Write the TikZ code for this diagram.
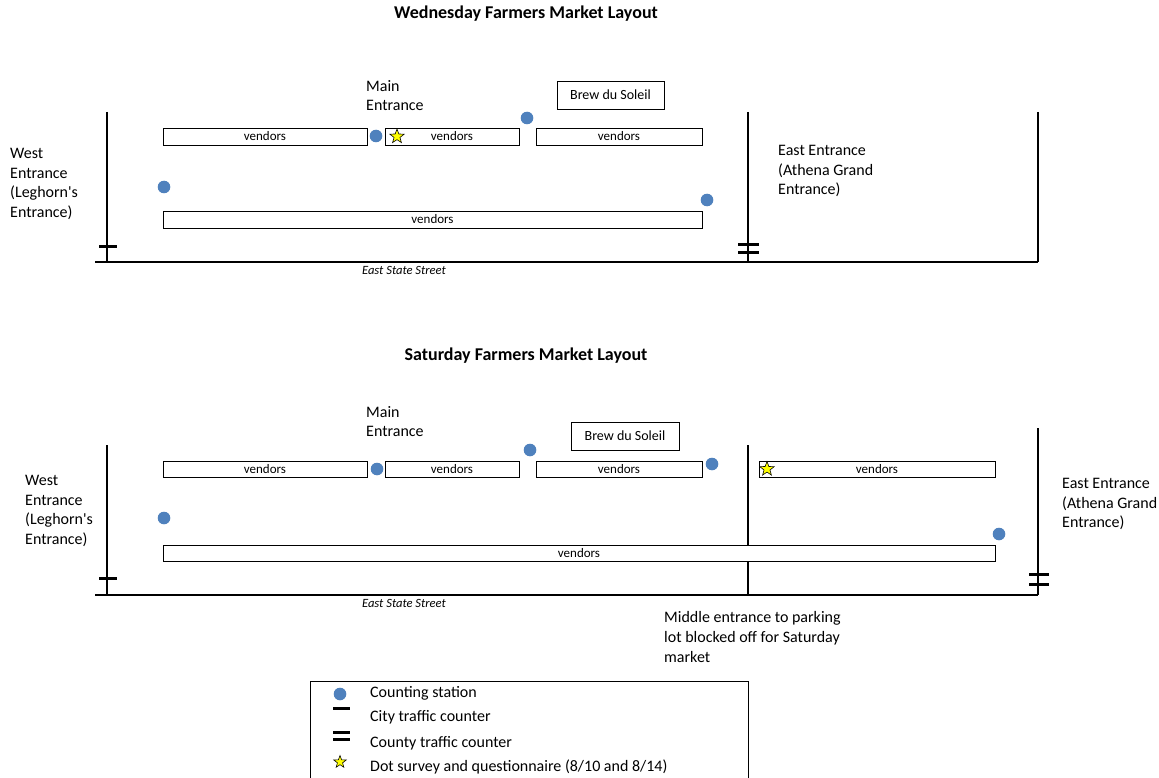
\documentclass[tikz,border=0pt]{standalone}
\usepackage{fontspec}
\setmainfont{Carlito}
\usetikzlibrary{shapes.geometric}
\definecolor{dotblue}{HTML}{4F81BD}
\definecolor{staryellow}{HTML}{FFFF00}
\tikzset{
  mainfont/.style={font=\fontsize{16}{19.7}\selectfont},
  lbl/.style={mainfont, align=left, inner sep=0pt, anchor=north west},
  titlelbl/.style={font=\fontsize{18}{22}\selectfont\bfseries, inner sep=0pt},
  stall/.style={draw=black, line width=0.9pt, fill=white, inner sep=0pt, font=\fontsize{13}{15}\selectfont},
  brewbox/.style={draw=black, line width=0.8pt, fill=white, inner sep=0pt, font=\fontsize{14}{16}\selectfont},
  station/.style={circle, fill=dotblue, draw=none, minimum size=12.6pt, inner sep=0pt},
  survey/.style={star, star points=5, star point ratio=2.4, draw=black, line width=0.6pt, fill=staryellow, minimum size=15pt, inner sep=0pt},
  wall/.style={line width=1.1pt, black},
  counter/.style={line width=3pt, black},
  streetlbl/.style={font=\fontsize{12.6}{15}\selectfont\itshape, inner sep=0pt},
}
\begin{document}
\begin{tikzpicture}[x=1pt,y=-1pt]
\useasboundingbox (0,0) rectangle (1159,778);

% ================= Wednesday =================
\node[titlelbl] (wtitle) at (526,14) {Wednesday Farmers Market Layout};
\node[lbl] (wmain) at (366,80) {Main\\Entrance};
\node[brewbox, minimum width=107pt, minimum height=28pt] (wbrew) at (610.5,95) {Brew du Soleil};

\draw[wall] (107,112) -- (107,262);
\draw[wall] (748,112) -- (748,262);
\draw[wall] (1038,112) -- (1038,262);
\draw[wall] (95,262) -- (1038,262);

\node[stall, minimum width=204pt, minimum height=17pt] (wv1) at (265,136.5) {vendors};
\node[stall, minimum width=134pt, minimum height=17pt] (wv2) at (452,136.5) {vendors};
\node[stall, minimum width=166pt, minimum height=17pt] (wv3) at (619,136.5) {vendors};
\node[stall, minimum width=539pt, minimum height=17pt] (wv4) at (432.5,219.5) {vendors};

\node[station] (wd1) at (376,136) {};
\node[station] (wd2) at (527,118) {};
\node[station] (wd3) at (164,187) {};
\node[station] (wd4) at (707,200) {};
\node[survey] (ws1) at (397,136.5) {};

\draw[counter] (99,246) -- (117,246);
\draw[counter] (738,244) -- (759,244);
\draw[counter] (738,252) -- (759,252);

\node[lbl] (wwest) at (10,148) {West\\Entrance\\(Leghorn\textquotesingle s\\Entrance)};
\node[lbl] (weast) at (778,145) {East Entrance\\(Athena Grand\\Entrance)};
\node[streetlbl] (wstreet) at (404,270) {East State Street};

% ================= Saturday =================
\node[titlelbl] (stitle) at (526,356) {Saturday Farmers Market Layout};
\node[lbl] (smain) at (366,406) {Main\\Entrance};
\node[brewbox, minimum width=108pt, minimum height=28pt] (sbrew) at (625,436) {Brew du Soleil};

\draw[wall] (107,445) -- (107,595);
\draw[wall] (748,445) -- (748,595);
\draw[wall] (1038,428) -- (1038,595);
\draw[wall] (95,595) -- (1038,595);

\node[stall, minimum width=204pt, minimum height=16pt] (sv1) at (265,469) {vendors};
\node[stall, minimum width=134pt, minimum height=16pt] (sv2) at (452,469) {vendors};
\node[stall, minimum width=166pt, minimum height=16pt] (sv3) at (619,469) {vendors};
\node[stall, minimum width=236pt, minimum height=16pt] (sv4) at (877,469) {vendors};
\node[stall, minimum width=832pt, minimum height=16pt] (sv5) at (579,553) {vendors};

\node[station] (sd1) at (377,469) {};
\node[station] (sd2) at (530,450) {};
\node[station] (sd3) at (712,464) {};
\node[station] (sd4) at (164,518) {};
\node[station] (sd5) at (999,534) {};
\node[survey] (ss1) at (767,469) {};

\draw[counter] (99,578) -- (117,578);
\draw[counter] (1029,574) -- (1049,574);
\draw[counter] (1029,584) -- (1049,584);

\node[lbl] (swest) at (25,475) {West\\Entrance\\(Leghorn\textquotesingle s\\Entrance)};
\node[lbl] (seast) at (1062,478) {East Entrance\\(Athena Grand\\Entrance)};
\node[streetlbl] (sstreet) at (404,603) {East State Street};
\node[lbl, font=\fontsize{16}{20.2}\selectfont] (smiddle) at (664,611) {Middle entrance to parking\\lot blocked off for Saturday\\market};

% ================= Legend =================
\draw[line width=0.8pt] (310,778) -- (310,681) -- (748,681) -- (748,778);
\node[station] (ld) at (340,694) {};
\draw[counter] (333,708) -- (350,708);
\draw[counter] (333,732) -- (350,732);
\draw[counter] (333,739) -- (350,739);
\node[survey, minimum size=13pt] (ls) at (340,762) {};
\node[mainfont, anchor=west, inner sep=0pt] (lt1) at (370,693) {Counting station};
\node[mainfont, anchor=west, inner sep=0pt] (lt2) at (370,717) {City traffic counter};
\node[mainfont, anchor=west, inner sep=0pt] (lt3) at (370,743) {County traffic counter};
\node[mainfont, anchor=west, inner sep=0pt] (lt4) at (370,767) {Dot survey and questionnaire (8/10 and 8/14)};
\end{tikzpicture}
\end{document}
